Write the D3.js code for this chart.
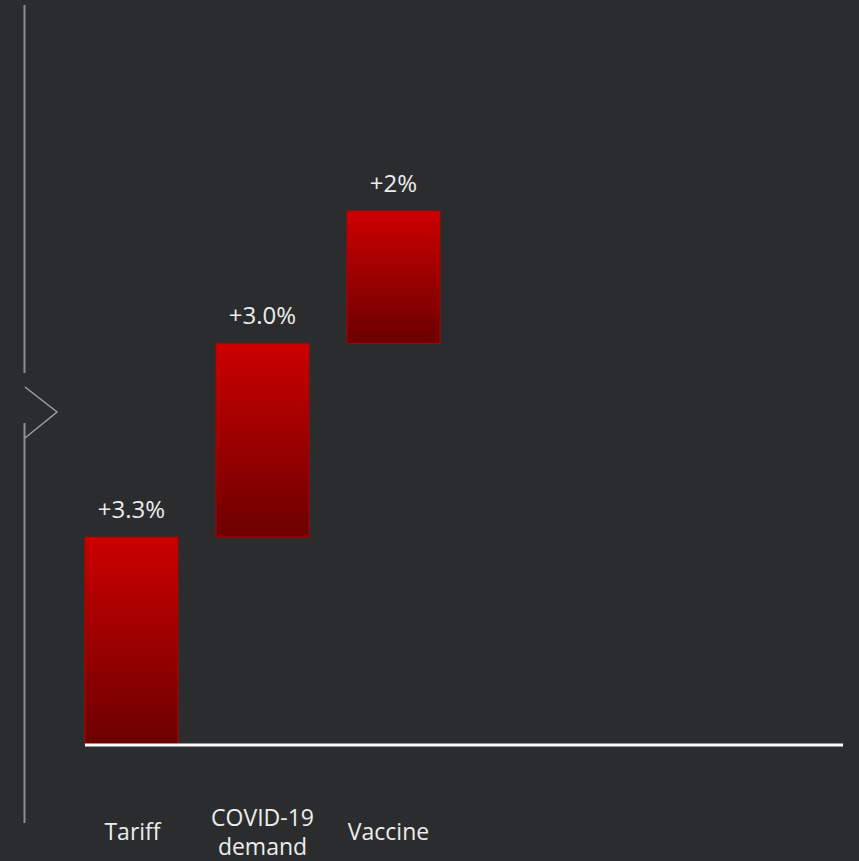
<!DOCTYPE html>
<html><head><meta charset="utf-8">
<script src="https://cdn.jsdelivr.net/npm/d3@7"></script>
<style>html,body{margin:0;padding:0;background:#2b2c2e;}svg{display:block;}</style>
</head><body>
<svg id="c" width="859" height="861"></svg>
<script>
const categories = ["Tariff", "COVID-19\ndemand", "Vaccine"];
const values = [3.22, 3.0, 2.05];
const valueLabels = ["+3.3%", "+3.0%", "+2%"];

const svg = d3.select("#c");
svg.append("rect").attr("width", 859).attr("height", 861).attr("fill", "#2b2c2e");

const defs = svg.append("defs");
const g = defs.append("linearGradient").attr("id", "barGrad").attr("x1", 0).attr("y1", 0).attr("x2", 0).attr("y2", 1);
g.append("stop").attr("offset", "0%").attr("stop-color", "#cc0000");
g.append("stop").attr("offset", "100%").attr("stop-color", "#6c0000");

let cum = 0;
const data = categories.map((c, i) => { const d = {cat: c, start: cum, end: cum + values[i], label: valueLabels[i]}; cum += values[i]; return d; });

const x = d3.scaleBand().domain(categories).range([85, 440]).paddingInner(0.29).paddingOuter(0);
const y = d3.scaleLinear().domain([0, 8.27]).range([745, 211]);

// left decoration line with chevron
const deco = svg.append("g").attr("stroke", "#8a8f8f").attr("stroke-width", 2).attr("fill", "none");
deco.append("line").attr("x1", 24.5).attr("x2", 24.5).attr("y1", 5).attr("y2", 373);
deco.append("line").attr("x1", 24.5).attr("x2", 24.5).attr("y1", 423).attr("y2", 823);
deco.append("polyline").attr("points", "25,387 57,412 25,438").attr("stroke-width", 1.5).attr("stroke", "#9a9e9e");

// bars
svg.selectAll("rect.bar").data(data).enter().append("rect")
  .attr("class", "bar")
  .attr("x", d => x(d.cat))
  .attr("width", x.bandwidth())
  .attr("y", d => y(d.end))
  .attr("height", d => y(d.start) - y(d.end))
  .attr("fill", "url(#barGrad)")
  .attr("stroke", "#b30000").attr("stroke-width", 1);

// value labels
svg.selectAll("text.val").data(data).enter().append("text")
  .attr("class", "val")
  .attr("x", d => x(d.cat) + x.bandwidth() / 2)
  .attr("y", d => y(d.end) - 19)
  .attr("text-anchor", "middle")
  .attr("fill", "#ececec")
  .attr("font-family", "'Open Sans', sans-serif")
  .attr("font-size", 24)
  .text(d => d.label);

// baseline
svg.append("line").attr("x1", 85).attr("x2", 843).attr("y1", y(0)).attr("y2", y(0))
  .attr("stroke", "#ffffff").attr("stroke-width", 3);

// category labels
const xAxis = d3.axisBottom(x).tickSize(0).tickFormat("");
const ax = svg.append("g").attr("transform", `translate(0,${y(0)})`).call(xAxis);
ax.select(".domain").remove();
const labelShift = [1, 0, -5];
ax.selectAll(".tick").each(function(d, idx) {
  const lines = d.split("\n");
  const t = d3.select(this).append("text")
    .attr("text-anchor", "middle")
    .attr("fill", "#ececec")
    .attr("font-family", "'Open Sans', sans-serif")
    .attr("font-size", 23);
  const lh = 29;
  const base = 95 - (lines.length - 1) * lh / 2;
  lines.forEach((l, i) => t.append("tspan").attr("x", labelShift[idx]).attr("y", base + i * lh).text(l));
});
</script>
</body></html>
